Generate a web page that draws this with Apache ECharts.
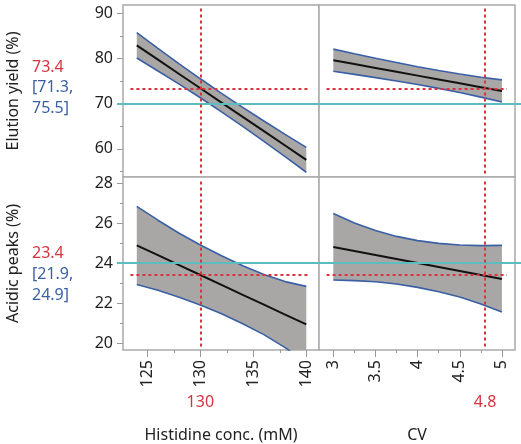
<!DOCTYPE html>
<html>
<head>
<meta charset="UTF-8">
<title>Prediction profiler</title>
<script src="https://cdn.jsdelivr.net/npm/echarts@6/dist/echarts.min.js"></script>
</head>
<body style="margin:0">
<div id="container" style="width:521px;height:444px"></div>
<script type="text/javascript">
// factor grids
var histX = [124, 126, 128, 130, 132, 134, 136, 138, 140];
var cvX = [3, 3.25, 3.5, 3.75, 4, 4.25, 4.5, 4.75, 5];

// Elution yield (%) vs histidine
var yieldHistMean = [82.88, 79.72, 76.56, 73.4, 70.24, 67.08, 63.92, 60.76, 57.6];
var yieldHistHi = [85.68, 82.22, 78.81, 75.5, 72.29, 69.18, 66.17, 63.21, 60.35];
var yieldHistLo = [80.08, 77.22, 74.31, 71.3, 68.19, 64.98, 61.67, 58.31, 54.85];
// Elution yield (%) vs CV
var yieldCvMean = [79.6, 78.75, 77.9, 77.05, 76.2, 75.35, 74.5, 73.65, 72.8];
var yieldCvHi = [82.05, 81.03, 80.05, 79.08, 78.15, 77.32, 76.55, 75.85, 75.25];
var yieldCvLo = [77.15, 76.47, 75.75, 75.02, 74.25, 73.38, 72.45, 71.45, 70.35];
// Acidic peaks (%) vs histidine
var acidHistMean = [24.88, 24.39, 23.89, 23.4, 22.91, 22.41, 21.92, 21.42, 20.93];
var acidHistHi = [26.83, 26.14, 25.49, 24.9, 24.36, 23.86, 23.42, 23.07, 22.83];
var acidHistLo = [22.93, 22.64, 22.29, 21.9, 21.46, 20.96, 20.42, 19.77, 19.03];
// Acidic peaks (%) vs CV
var acidCvMean = [24.8, 24.6, 24.4, 24.2, 24.0, 23.8, 23.6, 23.4, 23.2];
var acidCvHi = [26.48, 26.0, 25.62, 25.33, 25.12, 24.98, 24.9, 24.87, 24.88];
var acidCvLo = [23.15, 23.12, 23.06, 22.95, 22.78, 22.56, 22.3, 21.95, 21.55];

// current settings and predictions
var histCur = 130, cvCur = 4.8;
var yieldCur = 73.4, yieldCI = [71.3, 75.5], yieldLimit = 70;
var acidCur = 23.4, acidCI = [21.9, 24.9], acidLimit = 24;

// axis ticks
var histTicks = [125, 130, 135, 140];
var histMinor = [127.5, 132.5, 137.5];
var cvTicks = [3, 3.5, 4, 4.5, 5];
var cvMinor = [3.25, 3.75, 4.25, 4.75];
var yieldTicks = [60, 70, 80, 90];
var yieldMinor = [55, 65, 75, 85];
var acidTicks = [20, 22, 24, 26, 28];
var acidMinor = [21, 23, 25, 27];

var histRange = [122.7, 141.2], cvRange = [2.83, 5.155];
var yieldRange = [53.8, 91.8], acidRange = [19.65, 28.3];
// extent of the dotted prediction lines
var histSpan = [123.4, 140.2], cvSpan = [2.92, 5.06];

var RED = '#d8333f', BLUE = '#3a5fa5', CYAN = '#5dbcc0', GREY = '#a9a9a9';
var FONT = 'Noto Sans';

var dom = document.getElementById('container');
var myChart = echarts.init(dom);

var grids = [
    {left: 123, top: 5, width: 196, height: 172},
    {left: 319, top: 5, width: 196, height: 172},
    {left: 123, top: 177, width: 196, height: 173},
    {left: 319, top: 177, width: 196, height: 173}
];
grids.forEach(function (g) {
    g.show = true;
    g.borderColor = GREY;
    g.borderWidth = 1.5;
    g.backgroundColor = '#fff';
});

function hiddenAxis(extra) {
    var a = {
        type: 'value', axisLine: {show: false}, axisTick: {show: false},
        axisLabel: {show: false}, splitLine: {show: false}
    };
    for (var k in extra) a[k] = extra[k];
    return a;
}

function tickAxis(grid, range, values, len, color, pos) {
    return hiddenAxis({
        gridIndex: grid, min: range[0], max: range[1], position: pos,
        axisTick: {show: true, customValues: values, length: len, lineStyle: {color: color, width: color == CYAN ? 2 : 1}}
    });
}

function labelAxis(grid, range, ticks, pos, name, isX) {
    return {
        type: 'value', gridIndex: grid, min: range[0], max: range[1], position: pos,
        name: name, nameLocation: 'middle', nameGap: isX ? 77 : 102,
        nameTextStyle: {fontFamily: FONT, fontSize: 16, color: '#222'},
        axisLine: {show: false},
        axisTick: {show: true, customValues: ticks, length: isX ? 7 : 6, lineStyle: {color: '#999'}},
        axisLabel: {show: true, customValues: ticks, margin: 10, rotate: isX ? 90 : 0,
            fontFamily: FONT, fontSize: 16, color: '#222'},
        splitLine: {show: false}
    };
}

var xAxes = [
    hiddenAxis({gridIndex: 0, min: histRange[0], max: histRange[1]}),
    hiddenAxis({gridIndex: 1, min: cvRange[0], max: cvRange[1]}),
    labelAxis(2, histRange, histTicks, 'bottom', 'Histidine conc. (mM)', true),
    labelAxis(3, cvRange, cvTicks, 'bottom', 'CV', true),
    tickAxis(2, histRange, histMinor, 3, '#999', 'bottom'),
    tickAxis(3, cvRange, cvMinor, 3, '#999', 'bottom')
];
var yAxes = [
    labelAxis(0, yieldRange, yieldTicks, 'left', 'Elution yield (%)', false),
    hiddenAxis({gridIndex: 1, min: yieldRange[0], max: yieldRange[1]}),
    labelAxis(2, acidRange, acidTicks, 'left', 'Acidic peaks (%)', false),
    hiddenAxis({gridIndex: 3, min: acidRange[0], max: acidRange[1]}),
    tickAxis(0, yieldRange, yieldMinor, 3, '#999', 'left'),
    tickAxis(2, acidRange, acidMinor, 3, '#999', 'left'),
    tickAxis(0, yieldRange, [yieldLimit], 6, CYAN, 'left'),
    tickAxis(2, acidRange, [acidLimit], 6, CYAN, 'left'),
    tickAxis(1, yieldRange, [yieldLimit], 6, CYAN, 'right'),
    tickAxis(3, acidRange, [acidLimit], 6, CYAN, 'right')
];

function pairs(xs, ys) {
    return xs.map(function (x, i) { return [x, ys[i]]; });
}

var series = [];
function addPanel(g, xs, mean, lo, hi, xCur, yCur, xSpan, yRange, limit) {
    // confidence band as one polygon, clipped to its grid
    series.push({
        type: 'custom', xAxisIndex: g, yAxisIndex: g, silent: true, animation: false,
        data: [0],
        renderItem: function (params, api) {
            var pts = [];
            for (var i = 0; i < xs.length; i++) pts.push(api.coord([xs[i], hi[i]]));
            for (var j = xs.length - 1; j >= 0; j--) pts.push(api.coord([xs[j], lo[j]]));
            var cs = params.coordSys;
            return {
                type: 'group',
                clipPath: {type: 'rect', shape: {x: cs.x, y: cs.y, width: cs.width, height: cs.height}},
                children: [{type: 'polygon', shape: {points: pts}, style: {fill: '#a9a7a5'}}]
            };
        }
    });
    var base = {type: 'line', xAxisIndex: g, yAxisIndex: g, symbol: 'none',
        animation: false, silent: true};
    function s(extra) {
        var o = {};
        for (var k in base) o[k] = base[k];
        for (var k2 in extra) o[k2] = extra[k2];
        return o;
    }
    series.push(s({data: pairs(xs, hi), lineStyle: {color: BLUE, width: 1.6}}));
    series.push(s({data: pairs(xs, lo), lineStyle: {color: BLUE, width: 1.6}}));
    var inset = (yRange[1] - yRange[0]) * 0.02;
    series.push(s({data: pairs(xs, mean), lineStyle: {color: '#111', width: 2},
        markLine: {
            symbol: 'none', silent: true, animation: false, label: {show: false},
            data: [
                {yAxis: limit, lineStyle: {color: CYAN, width: 2, type: 'solid'}},
                [{coord: [xSpan[0], yCur]}, {coord: [xSpan[1], yCur]}],
                [{coord: [xCur, yRange[0] + inset]}, {coord: [xCur, yRange[1] - inset]}]
            ],
            lineStyle: {color: RED, width: 2, type: [3, 3]}
        }}));
}
addPanel(0, histX, yieldHistMean, yieldHistLo, yieldHistHi, histCur, yieldCur, histSpan, yieldRange, yieldLimit);
addPanel(1, cvX, yieldCvMean, yieldCvLo, yieldCvHi, cvCur, yieldCur, cvSpan, yieldRange, yieldLimit);
addPanel(2, histX, acidHistMean, acidHistLo, acidHistHi, histCur, acidCur, histSpan, acidRange, acidLimit);
addPanel(3, cvX, acidCvMean, acidCvLo, acidCvHi, cvCur, acidCur, cvSpan, acidRange, acidLimit);

var option = {
    backgroundColor: '#fff',
    animation: false,
    grid: grids,
    xAxis: xAxes,
    yAxis: yAxes,
    series: series
};
myChart.setOption(option);

// predicted values beside the responses, current settings under the factors
function txt(x, y, text, color, align) {
    return {type: 'text', x: x, y: y, silent: true,
        style: {text: text, fill: color, fontFamily: FONT, fontSize: 16, align: align || 'left', verticalAlign: 'middle'}};
}
var histPx = myChart.convertToPixel({xAxisIndex: 2}, histCur);
var cvPx = myChart.convertToPixel({xAxisIndex: 3}, cvCur);
myChart.setOption({
    graphic: [
        txt(32, 67, String(yieldCur), RED),
        txt(32, 87, '[' + yieldCI[0] + ',', BLUE),
        txt(32, 108, yieldCI[1] + ']', BLUE),
        txt(32, 253, String(acidCur), RED),
        txt(32, 274, '[' + acidCI[0] + ',', BLUE),
        txt(32, 295, acidCI[1] + ']', BLUE),
        txt(histPx, 402, String(histCur), RED, 'center'),
        txt(cvPx, 402, String(cvCur), RED, 'center')
    ]
});
</script>
</body>
</html>
